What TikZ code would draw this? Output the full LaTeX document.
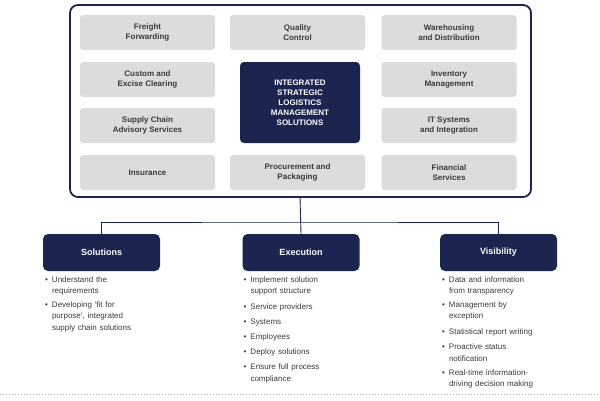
\documentclass[tikz,border=0pt]{standalone}
\usepackage{fontspec}
\setmainfont{Liberation Sans}
\usetikzlibrary{positioning}
\definecolor{navy}{HTML}{1B2550}
\definecolor{cellgray}{HTML}{DCDCDC}
\definecolor{celltext}{HTML}{3A3A3A}
\newcommand\bitem[1]{\noindent\makebox[7pt][l]{\textbullet}\parbox[t]{108pt}{#1\strut}\par\vspace{3.5pt}}
\tikzset{
  cell/.style={fill=cellgray,rounded corners=3pt,minimum width=135pt,minimum height=35pt,align=center,font=\fontsize{8}{10}\selectfont\bfseries,text=celltext},
  core/.style={fill=navy,rounded corners=4pt,minimum width=120pt,minimum height=81pt,align=center,font=\fontsize{8}{10}\selectfont\bfseries,text=white},
  head/.style={fill=navy,rounded corners=5pt,minimum width=117pt,minimum height=37pt,font=\fontsize{9}{11}\selectfont\bfseries,text=white},
  bullets/.style={text width=116pt,inner sep=0pt,font=\fontsize{8}{11.5}\selectfont,text=celltext},
  link/.style={navy,line width=0.9pt},
}
\begin{document}
\begin{tikzpicture}[x=1pt,y=-1pt]
  \useasboundingbox (0,0) rectangle (600,400);
  \draw[navy,line width=1.8pt,rounded corners=8pt] (70,5) rectangle (531,197);
  % service grid
  \node[cell] (ff) at (147.5,32.5) {Freight\\Forwarding};
  \node[cell] (qc) at (297.5,32.5) {Quality\\Control};
  \node[cell] (wd) at (449,32.5) {Warehousing\\and Distribution};
  \node[cell] (ce) at (147.5,79.5) {Custom and\\Excise Clearing};
  \node[cell] (im) at (449,79.5) {Inventory\\Management};
  \node[cell] (sc) at (147.5,125.5) {Supply Chain\\Advisory Services};
  \node[cell] (it) at (449,125.5) {IT Systems\\and Integration};
  \node[cell] (in) at (147.5,172.5) {Insurance};
  \node[cell] (pp) at (297.5,172.5) {Procurement and\\Packaging};
  \node[cell] (fs) at (449,172.5) {Financial\\Services};
  \node[core] (isl) at (300,102.5) {INTEGRATED\\STRATEGIC\\LOGISTICS\\MANAGEMENT\\SOLUTIONS};
  % pillars
  \node[head] (sol) at (101.5,252.5) {Solutions};
  \node[head] (exe) at (301,252.5) {Execution};
  \node[head] (vis) at (498.5,252.5) {Visibility};
  \coordinate (top) at (300,197);
  \draw[link] (top) -- (exe.north);
  \draw[link] (sol.north) |- (300,222) -| (vis.north);
  \node[bullets,below=5pt of sol.south west,anchor=north west,xshift=2pt] (solb) {%
    \bitem{Understand the\\requirements}
    \bitem{Developing ‘fit for\\purpose’, integrated\\supply chain solutions}};
  \node[bullets,below=5pt of exe.south west,anchor=north west,xshift=1pt] (exeb) {%
    \bitem{Implement solution\\support structure}
    \bitem{Service providers}
    \bitem{Systems}
    \bitem{Employees}
    \bitem{Deploy solutions}
    \bitem{Ensure full process\\compliance}};
  \node[bullets,below=5pt of vis.south west,anchor=north west,xshift=2pt] (visb) {%
    \bitem{Data and information\\from transparency}
    \bitem{Management by\\exception}
    \bitem{Statistical report writing}
    \bitem{Proactive status\\notification}
    \bitem{Real-time information-\\driving decision making}};
  \draw[gray!60,dotted,line width=1pt] (0,394) -- (600,394);
\end{tikzpicture}
\end{document}
